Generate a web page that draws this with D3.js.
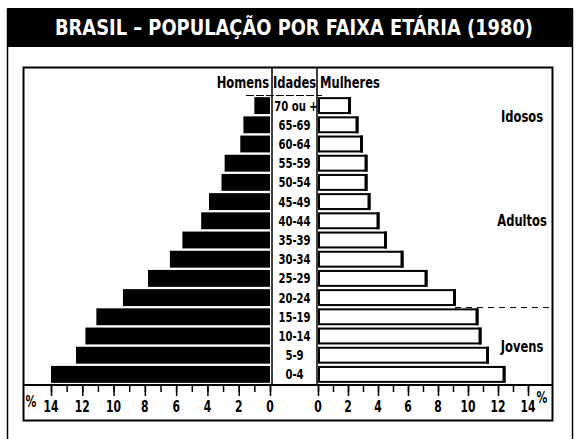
<!DOCTYPE html>
<html>
<head>
<meta charset="utf-8">
<script src="https://cdn.jsdelivr.net/npm/d3@7"></script>
<style>
  body { margin: 0; background: #fff; }
  svg text { font-family: "Liberation Sans Narrow", "DejaVu Sans Condensed", "Roboto Condensed", sans-serif; font-weight: bold; }
</style>
</head>
<body>
<div id="chart"></div>
<script>
// age groups, top of pyramid first
var ages = ['70 ou +', '65-69', '60-64', '55-59', '50-54', '45-49', '40-44', '35-39',
            '30-34', '25-29', '20-24', '15-19', '10-14', '5-9', '0-4'];
// percent values
var homens   = [1.0, 1.7, 1.9, 2.9, 3.1, 3.9, 4.4, 5.6, 6.4, 7.8, 9.4, 11.1, 11.8, 12.4, 14.0];
var mulheres = [2.2, 2.7, 3.0, 3.3, 3.3, 3.5, 4.1, 4.6, 5.7, 7.3, 9.2, 10.7, 10.9, 11.4, 12.5];
var tickValues = [0, 2, 4, 6, 8, 10, 12, 14];
var groups = ['Idosos', 'Adultos', 'Jovens'];

var width = 579, height = 439;
var axisY = 385;
var squeeze = 0.8; // condensed look for the bold labels

var svg = d3.select('#chart').append('svg')
    .attr('width', width)
    .attr('height', height);

// helper: text squeezed horizontally around its anchor point
function label(parent, x, yy, txt, size, anchor) {
    return parent.append('text')
        .attr('transform', 'translate(' + x + ',' + yy + ') scale(' + squeeze + ',1)')
        .attr('text-anchor', anchor || 'start')
        .attr('font-size', size)
        .text(txt);
}

// outer frame + title band
svg.append('rect')
    .attr('x', 7).attr('y', 8)
    .attr('width', 566).attr('height', 39)
    .attr('fill', '#000');
svg.append('path')
    .attr('d', 'M7.5,9V439M572.5,9V439')
    .attr('stroke', '#000').attr('stroke-width', 1.5);
svg.append('text')
    .attr('x', 294).attr('y', 35)
    .attr('text-anchor', 'middle')
    .attr('fill', '#fff')
    .attr('font-size', 21)
    .attr('textLength', 478)
    .attr('lengthAdjust', 'spacingAndGlyphs')
    .text('BRASIL – POPULAÇÃO POR FAIXA ETÁRIA (1980)');

// chart frame
svg.append('rect')
    .attr('x', 23.5).attr('y', 67.5)
    .attr('width', 529).attr('height', 353)
    .attr('fill', 'none')
    .attr('stroke', '#000').attr('stroke-width', 2);

var xLeft = d3.scaleLinear().domain([0, 14]).range([270, 51]);
var xRight = d3.scaleLinear().domain([0, 14]).range([318, 528]);
var y = d3.scaleBand().domain(ages).range([96, 384]).paddingInner(0.12).paddingOuter(0.06);

// dashed separator Jovens / Adultos
var sepY = y('20-24') + y.bandwidth() + 1.5;
svg.append('line')
    .attr('x1', 455).attr('x2', 552)
    .attr('y1', sepY).attr('y2', sepY)
    .attr('stroke', '#000').attr('stroke-width', 1)
    .attr('stroke-dasharray', '6,5');

// male bars (solid)
svg.append('g').selectAll('rect')
    .data(ages)
    .enter().append('rect')
    .attr('x', function(d, i) { return xLeft(homens[i]); })
    .attr('y', function(d) { return y(d); })
    .attr('width', function(d, i) { return xLeft(0) - xLeft(homens[i]); })
    .attr('height', y.bandwidth())
    .attr('fill', '#000');

// female bars (outlined)
var fem = svg.append('g').selectAll('g')
    .data(ages)
    .enter().append('g');
fem.append('rect')
    .attr('x', xRight(0) + 1)
    .attr('y', function(d) { return y(d) + 1; })
    .attr('width', function(d, i) { return xRight(mulheres[i]) - xRight(0) - 2; })
    .attr('height', y.bandwidth() - 2)
    .attr('fill', '#fff')
    .attr('stroke', '#000').attr('stroke-width', 2);
fem.append('rect')
    .attr('x', function(d, i) { return xRight(mulheres[i]) - 3; })
    .attr('y', function(d) { return y(d); })
    .attr('width', 3)
    .attr('height', y.bandwidth())
    .attr('fill', '#000');

// central column lines and header
svg.append('path')
    .attr('d', 'M272,67V' + axisY + 'M317,67V' + axisY)
    .attr('stroke', '#000').attr('stroke-width', 1.5);
svg.append('line')
    .attr('x1', 246).attr('x2', 322)
    .attr('y1', 95.5).attr('y2', 95.5)
    .attr('stroke', '#000').attr('stroke-width', 1)
    .attr('stroke-dasharray', '8,2');

label(svg, 269, 88, 'Homens', 16, 'end');
label(svg, 294.5, 88, 'Idades', 16, 'middle');
label(svg, 320, 88, 'Mulheres', 16, 'start');

// age labels
var ageG = svg.append('g');
ages.forEach(function(d) {
    label(ageG, d === '70 ou +' ? 296 : 294.5, y(d) + y.bandwidth() / 2 + 5, d, 14, 'middle');
});

// group labels: Idosos between the top rows, Adultos mid 40-44, Jovens between 10-14 and 5-9
var groupY = {
    'Idosos':  y('65-69'),
    'Adultos': y('40-44') + y.bandwidth() / 2,
    'Jovens':  y('5-9')
};
groups.forEach(function(d) {
    label(svg, 522, groupY[d] + 5.5, d, 16, 'middle');
});

// bottom axis line
svg.append('line')
    .attr('x1', 23).attr('x2', 553)
    .attr('y1', axisY).attr('y2', axisY)
    .attr('stroke', '#000').attr('stroke-width', 2);

function drawAxis(scale) {
    var g = svg.append('g').attr('transform', 'translate(0,' + axisY + ')');
    var minor = d3.axisBottom(scale).ticks(14).tickSize(7).tickFormat('');
    g.append('g').call(minor);
    var major = d3.axisBottom(scale).tickValues(tickValues).tickSize(11).tickFormat('');
    g.append('g').call(major);
    g.selectAll('.domain').remove();
    g.selectAll('line').attr('stroke', '#000').attr('stroke-width', 1.5);
    tickValues.forEach(function(v) {
        label(g, scale(v), 27, String(v), 15, 'middle');
    });
}
drawAxis(xLeft);
drawAxis(xRight);

// percent signs
label(svg, 31, 407, '%', 15, 'middle');
label(svg, 542, 403, '%', 15, 'middle');
</script>
</body>
</html>
